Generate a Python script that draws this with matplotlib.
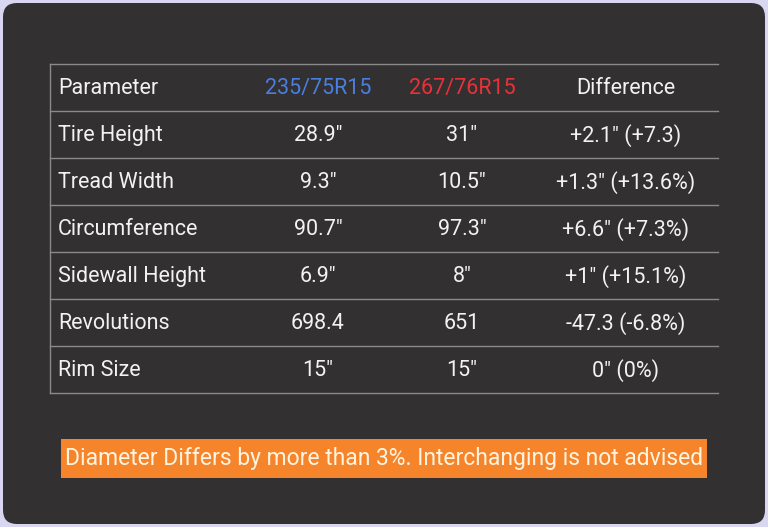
import matplotlib
matplotlib.use("Agg")
import matplotlib.pyplot as plt
from matplotlib.patches import FancyBboxPatch, Rectangle

plt.rcParams['font.family'] = ['Roboto', 'DejaVu Sans']

# Table data
headers = ["Parameter", "235/75R15", "267/76R15", "Difference"]
header_colors = ["#f2f2f2", "#4a7fe0", "#e8323a", "#f2f2f2"]
parameters = ["Tire Height", "Tread Width", "Circumference", "Sidewall Height", "Revolutions", "Rim Size"]
tire_a = ['28.9"', '9.3"', '90.7"', '6.9"', '698.4', '15"']
tire_b = ['31"', '10.5"', '97.3"', '8"', '651', '15"']
difference = ['+2.1" (+7.3)', '+1.3" (+13.6%)', '+6.6" (+7.3%)', '+1" (+15.1%)', '-47.3 (-6.8%)', '0" (0%)']
warning = "Diameter Differs by more than 3%. Interchanging is not advised"

W, H = 768, 527
fig = plt.figure(figsize=(W / 100, H / 100), dpi=100)
fig.patch.set_facecolor("#d9d6f2")
ax = fig.add_axes([0, 0, 1, 1])
ax.set_xlim(0, W)
ax.set_ylim(H, 0)
ax.axis("off")

ax.add_patch(FancyBboxPatch((3, 3), W - 6, H - 6, boxstyle="round,pad=0,rounding_size=14",
                            facecolor="#323030", edgecolor="none"))

left, right, top, row_h = 50, 718, 64, 47
col_x = [58, 318, 462, 626]
rows = [headers] + [list(r) for r in zip(parameters, tire_a, tire_b, difference)]
n = len(rows)
line_c = "#8a8a8a"
ax.plot([left, right], [top, top], color=line_c, lw=1)
ax.plot([left, left], [top, top + n * row_h], color=line_c, lw=1)
for i, row in enumerate(rows):
    yc = top + (i + 0.5) * row_h + 1
    ax.plot([left, right], [top + (i + 1) * row_h] * 2, color=line_c, lw=1)
    for j, txt in enumerate(row):
        color = header_colors[j] if i == 0 else "#f2f2f2"
        ax.text(col_x[j], yc, txt, color=color, fontsize=15.5,
                ha="left" if j == 0 else "center", va="center")

ax.add_patch(Rectangle((61, 439), 646, 39, facecolor="#f5842a", edgecolor="none"))
ax.text(384, 459, warning, color="#fff4e0", fontsize=16.5, ha="center", va="center")

fig.savefig("out.png", dpi=100, facecolor=fig.get_facecolor())
